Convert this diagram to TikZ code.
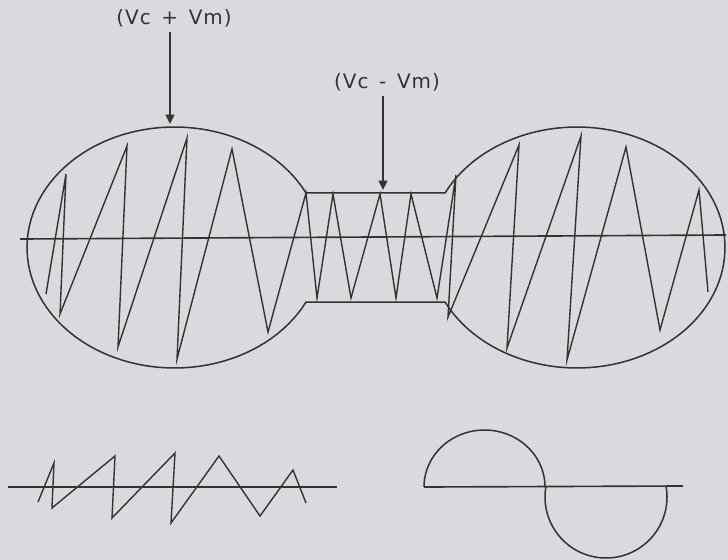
\documentclass[tikz,border=0pt]{standalone}
\usepackage{fontspec}
\usepackage{tikz}
\usetikzlibrary{arrows.meta, positioning, calc}
\newfontfamily\labelfont[LetterSpace=5]{DejaVu Sans}
\definecolor{paperBg}{HTML}{DADADE}
\definecolor{inkLine}{HTML}{333333}

\begin{document}
\begin{tikzpicture}[
    x=0.03cm, y=-0.03cm,
    trace/.style={draw=inkLine, line width=1.2pt, line join=miter},
    outline/.style={draw=inkLine, line width=1.3pt},
    axisline/.style={draw=inkLine, line width=1.4pt},
    arrow/.style={-{Triangle[length=8pt, width=7.5pt]}, draw=inkLine, line width=1.2pt},
    labelstyle/.style={font=\labelfont\fontsize{17}{20}\selectfont, text=inkLine, inner sep=0pt},
]

% ── Background ──
\fill[paperBg] (0,0) rectangle (728,560);
\useasboundingbox (0,0) rectangle (728,560);

% ── Envelope (two lobes joined by the narrow band) ──
\draw[outline]
  plot[domain=26.9:333.1, samples=100, variable=\t] ({174.5+147.5*cos(\t)}, {247.5-120.5*sin(\t)})
  -- plot[domain=-153.1:153.1, samples=100, variable=\t] ({577+148*cos(\t)}, {247.5-120.5*sin(\t)})
  -- cycle;

% ── Axis ──
\draw[axisline] (20,239) -- (726,235);

% ── Modulated wave ──
\draw[trace] (46,294) -- (66,174) -- (60,314) -- (127,146) -- (118,347)
  -- (187,138) -- (177,359) -- (232,149) -- (268,332) -- (306,193)
  -- (317,298) -- (333,194) -- (351,298) -- (380,194) -- (396,298)
  -- (411,194) -- (437,298) -- (456,175) -- (448,317) -- (519,145)
  -- (507,348) -- (581,136) -- (567,360) -- (626,147) -- (660,330)
  -- (699,190) -- (708,292);

% ── Labels ──
\node[labelstyle] (sumlabel) at (174,18) {(Vc\, + \,Vm)};
\coordinate (sumtip) at (170,124);
\draw[arrow] ([yshift=-4pt]sumlabel.south -| sumtip) -- (sumtip);

\node[labelstyle] (difflabel) at (387,82) {(Vc\, - \,Vm)};
\coordinate (difftip) at (383,190);
\draw[arrow] ([yshift=-4pt]difflabel.south -| difftip) -- (difftip);

% ── Bottom left: sawtooth ──
\draw[axisline] (8,487) -- (337,487);
\draw[trace] (38,502) -- (54,463) -- (52,508) -- (115,456) -- (112,518)
  -- (175,453) -- (171,523) -- (219,456) -- (260,516) -- (293,470) -- (306,503);

% ── Bottom right: half circles ──
\draw[axisline] (424,487) -- (683,486);
\draw[outline] plot[domain=0:180, samples=60, variable=\t] ({484.5+60.5*cos(\t)}, {487-57*sin(\t)});
\draw[outline] plot[domain=170.6:369.4, samples=70, variable=\t] ({606+61*cos(\t)}, {497-61*sin(\t)});

\end{tikzpicture}
\end{document}
